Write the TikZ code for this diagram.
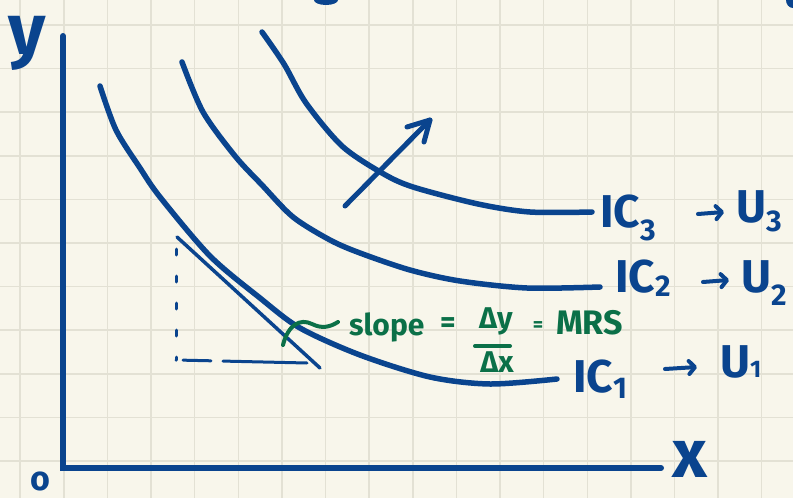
\documentclass[tikz,border=0pt]{standalone}
\usepackage{fontspec}
\setmainfont{Fira Sans}
\usetikzlibrary{arrows.meta}
\definecolor{paper}{HTML}{F8F6EB}
\definecolor{gridc}{HTML}{E3E1D4}
\definecolor{ink}{HTML}{0A448E}
\definecolor{gink}{HTML}{0B7048}
\newcommand{\lowsub}[3]{\raisebox{-#2pt}{\fontsize{#1}{#1}\selectfont #3}}
\begin{document}
\begin{tikzpicture}[x=1pt,y=-1pt,
  gridline/.style={draw=gridc, line width=1.5pt},
  curve/.style={draw=ink, line width=5.5pt, line cap=round, line join=round},
  axisline/.style={draw=ink, line width=6pt, line cap=round, line join=miter},
  bigarrow/.style={draw=ink, line width=5pt, line cap=round, line join=round},
  smallarrow/.style={draw=ink, line width=4pt, line cap=round, -{Straight Barb[round,length=6pt,width=13pt]}},
  lbl/.style={text=ink, font=\bfseries\fontsize{46}{46}\selectfont, inner sep=0pt, anchor=base west},
  glbl/.style={text=gink, font=\bfseries\fontsize{30}{30}\selectfont, inner sep=0pt},
]
\fill[paper] (0,0) rectangle (793,498);
\useasboundingbox (0,0) rectangle (793,498);
\foreach \k in {0,...,17} \draw[gridline] ({20.2+43.62*\k},0) -- ({20.2+43.62*\k},498);
\foreach \k in {0,...,10} \draw[gridline] (0,{25+43.6*\k}) -- (793,{25+43.6*\k});

% cut-off fragments at the top edge
\fill[ink] (326,0) ellipse (12 and 5);
\fill[ink] (793,0) ellipse (7 and 8);

% axes
\coordinate (ytop) at (63,36);
\coordinate (O) at (63,468);
\coordinate (xend) at (661,468);
\draw[axisline] (ytop) -- (O) -- (xend);
\node[text=ink, font=\bfseries\fontsize{72}{72}\selectfont, inner sep=0pt, anchor=base west, text height=38pt, text depth=18pt] (ylab) at (8,54) {y};
\node[text=ink, font=\bfseries\fontsize{68}{68}\selectfont, inner sep=0pt, anchor=base west, text height=36pt, text depth=0pt] (xlab) at (672,477) {x};
\node[text=ink, font=\bfseries\fontsize{34}{34}\selectfont, inner sep=0pt, anchor=base west, text height=18pt, text depth=0pt] (olab) at (30,490) {o};

% indifference curves
\draw[curve] plot[smooth] coordinates {(100,86) (116,130) (140,168) (160,197) (210,256) (260,298) (300,328) (360,355) (430,377) (490,384) (557,379)};
\draw[curve] plot[smooth] coordinates {(182,62) (203,112) (235,156) (262,185) (293,217) (330,240) (360,253) (410,270) (460,281) (527,288) (600,287)};
\draw[curve] plot[smooth] coordinates {(262,32) (284,64) (306,103) (342,146) (382,173) (413,187) (478,204) (530,212) (592,212)};

% shift arrow
\coordinate (atail) at (345,206);
\coordinate (atip) at (430,120);
\coordinate (abarb1) at (407,127);
\coordinate (abarb2) at (424,142);
\draw[bigarrow] (atail) -- (atip);
\draw[bigarrow] (abarb1) -- (atip) -- (abarb2);

% tangent and dashed triangle
\coordinate (t1) at (177,237);
\coordinate (t2) at (320,368);
\draw[ink, line width=3.5pt, line cap=round] (t1) -- (t2);
\coordinate (d1) at (176,249);
\coordinate (d2) at (176,360);
\coordinate (d3) at (307,363);
\draw[ink, line width=3pt, line cap=round, dash pattern=on 6pt off 21pt] (d1) -- (d2);
\draw[ink, line width=3pt, line cap=round, dash pattern=on 0pt off 7pt on 28pt off 12pt on 85pt off 20pt] (d2) -- (d3);

% curve labels
\node[lbl] (ic3) at (600,227) {IC\lowsub{30}{13}{3}};
\node[lbl] (u3) at (736,222) {U\lowsub{30}{9}{3}};
\coordinate (r3a) at (698,214);
\coordinate (r3b) at (724,212);
\draw[smallarrow] (r3a) -- (r3b);

\node[lbl] (ic2) at (615,292) {IC\lowsub{30}{4}{2}};
\node[lbl] (u2) at (741,292) {U\lowsub{30}{13}{2}};
\coordinate (r2a) at (703,282);
\coordinate (r2b) at (729,280);
\draw[smallarrow] (r2a) -- (r2b);

\node[lbl] (ic1) at (573,392) {IC\lowsub{30}{6}{1}};
\node[lbl] (u1) at (720,377) {U\lowsub{24}{0}{1}};
\coordinate (r1a) at (665,369);
\coordinate (r1b) at (697,367);
\draw[smallarrow] (r1a) -- (r1b);

% slope annotation
\coordinate (s0) at (283,345);
\coordinate (s1) at (338,322);
\draw[gink, line width=4pt, line cap=round] (s0) .. controls (288,325) and (300,318) .. (312,324) .. controls (322,329) and (330,327) .. (s1);
\node[glbl, anchor=base west] (slope) at (349,335) {slope};
\node[glbl] (eq1) at (448,325) {=};
\node[glbl] (dy) at (496,321) {Δy};
\coordinate (fb1) at (475,346);
\coordinate (fb2) at (510,346);
\draw[gink, line width=4pt, line cap=round] (fb1) -- (fb2);
\node[glbl] (dx) at (497,362) {Δx};
\node[text=gink, font=\bfseries\fontsize{20}{20}\selectfont, inner sep=0pt] (eq2) at (538,327) {=};
\node[text=gink, font=\bfseries\fontsize{34}{34}\selectfont, inner sep=0pt, anchor=base west] (mrs) at (556,334) {MRS};
\end{tikzpicture}
\end{document}
